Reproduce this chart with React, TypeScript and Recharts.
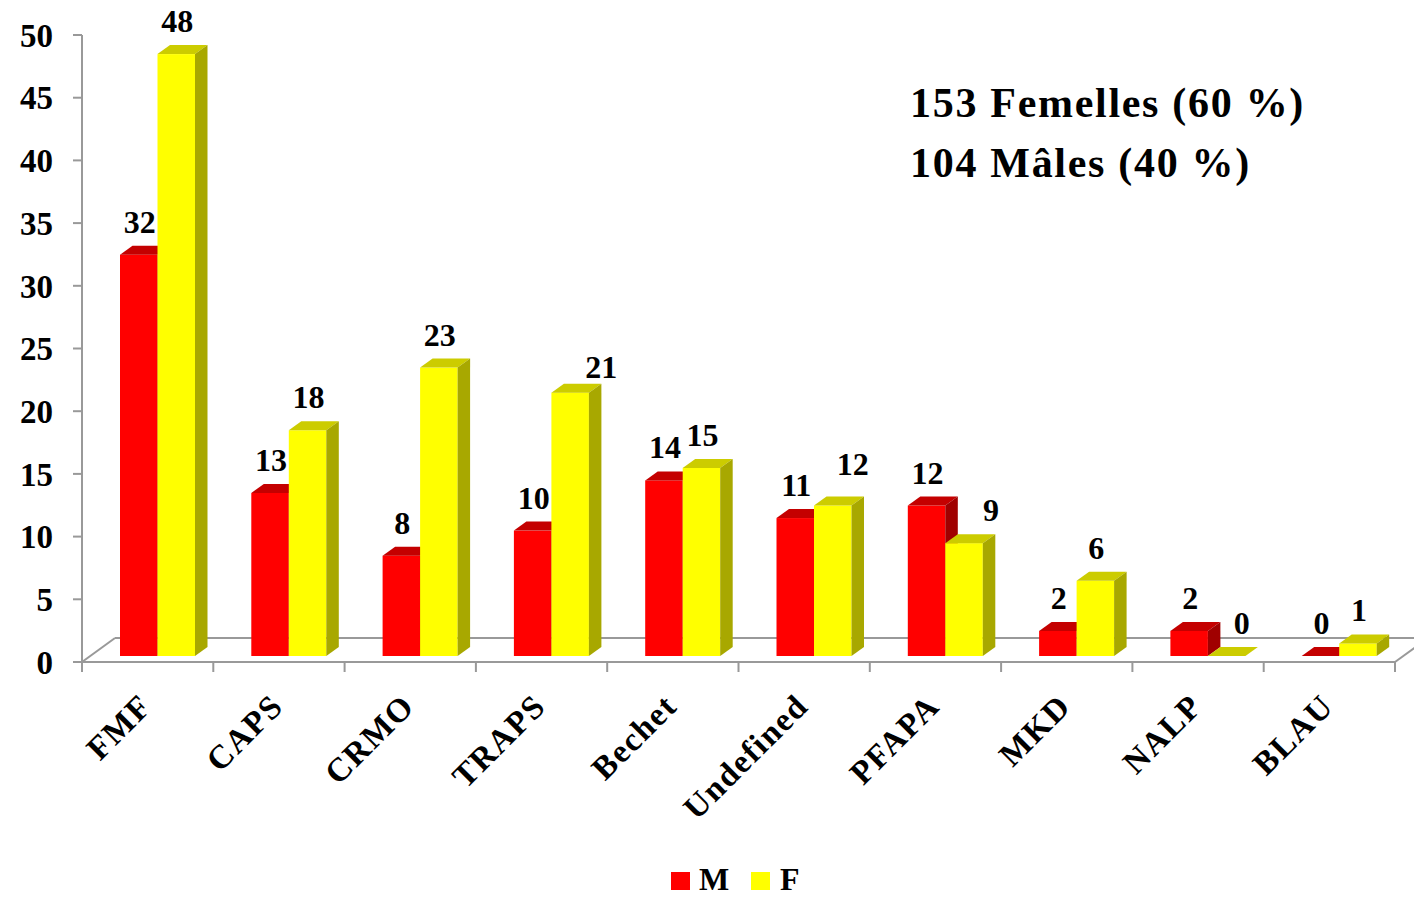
import React from "react";
import { BarChart, Bar, XAxis, YAxis, LabelList, Customized, usePlotArea } from "recharts";

const categories = ["FMF", "CAPS", "CRMO", "TRAPS", "Bechet", "Undefined", "PFAPA", "MKD", "NALP", "BLAU"];
const males = [32, 13, 8, 10, 14, 11, 12, 2, 2, 0];
const females = [48, 18, 23, 21, 15, 12, 9, 6, 0, 1];
const yTicks = [0, 5, 10, 15, 20, 25, 30, 35, 40, 45, 50];
const summary = ["153 Femelles (60 %)", "104 Mâles (40 %)"];

// labels the original chart had dragged aside (F series only)
const femaleLabelNudge: Record<string, [number, number]> = {
  TRAPS: [30, 7],
  Undefined: [19, -9],
  PFAPA: [26, 0],
  NALP: [14, 0],
};

const data = categories.map((name, i) => ({ name, M: males[i], F: females[i] }));

const FONT = '"Liberation Serif", "Times New Roman", serif';
const AXIS = "#999999";

// 3D offsets: bars sit a bit back on the floor, depth goes up-right
const DX = 10;
const DY = -6;
const DEPTH_X = 12.5;
const DEPTH_Y = -9;
const FLOOR_X = 33;
const FLOOR_Y = -24;

const Bar3D = (props: any) => {
  const { x, y, width, height, fill, top, side } = props;
  const fx = x + DX;
  const fy = y + DY;
  const h = Math.max(0, height);
  return (
    <g>
      <rect x={fx} y={fy} width={width} height={h} fill={fill} />
      <polygon
        points={`${fx},${fy} ${fx + width},${fy} ${fx + width + DEPTH_X},${fy + DEPTH_Y} ${fx + DEPTH_X},${fy + DEPTH_Y}`}
        fill={top}
      />
      {h > 0 && (
        <polygon
          points={`${fx + width},${fy} ${fx + width + DEPTH_X},${fy + DEPTH_Y} ${fx + width + DEPTH_X},${fy + h + DEPTH_Y} ${fx + width},${fy + h}`}
          fill={side}
        />
      )}
    </g>
  );
};

const BarLabel = (props: any) => {
  const { x, y, width, value, index, nudge } = props;
  const [nx, ny] = (nudge && nudge[categories[index]]) || [0, 0];
  return (
    <text
      x={x + DX + width / 2 + 1 + nx}
      y={y + DY - 22 + ny}
      textAnchor="middle"
      fontFamily={FONT}
      fontWeight="bold"
      fontSize={32}
      fill="#000"
    >
      {value}
    </text>
  );
};

const XTick = (props: any) => {
  const { x, y, payload, index } = props;
  const half = payload && payload.offset ? payload.offset : 65.65;
  return (
    <g>
      <line x1={x - half} x2={x - half} y1={y} y2={y + 10} stroke={AXIS} strokeWidth={2} />
      {index === categories.length - 1 && (
        <line x1={x + half} x2={x + half} y1={y} y2={y + 10} stroke={AXIS} strokeWidth={2} />
      )}
      <text
        transform={`translate(${x + 6},${y + 46}) rotate(-45)`}
        textAnchor="end"
        fontFamily={FONT}
        fontWeight="bold"
        fontSize={33}
        letterSpacing={1.5}
        fill="#000"
      >
        {payload.value}
      </text>
    </g>
  );
};

const Floor = () => {
  const area = usePlotArea();
  if (!area) return null;
  const left = area.x;
  const right = area.x + area.width;
  const bottom = area.y + area.height;
  return (
    <g stroke={AXIS} strokeWidth={2} fill="none">
      <line x1={left} y1={bottom} x2={left + FLOOR_X} y2={bottom + FLOOR_Y} />
      <line x1={left + FLOOR_X} y1={bottom + FLOOR_Y} x2={right + FLOOR_X} y2={bottom + FLOOR_Y} />
      <line x1={right} y1={bottom} x2={right + FLOOR_X} y2={bottom + FLOOR_Y} />
    </g>
  );
};

export default function App() {
  return (
    <div style={{ position: "relative", width: 1414, height: 897, background: "#fff" }}>
      <style>{`body{margin:0}`}</style>
      <BarChart
        width={1414}
        height={897}
        data={data}
        margin={{ top: 35, right: 19, left: 0, bottom: 0 }}
        barGap={0}
        barSize={37.5}
      >
        <Customized component={Floor} />
        <XAxis
          dataKey="name"
          height={235}
          interval={0}
          axisLine={{ stroke: AXIS, strokeWidth: 2 }}
          tickLine={false}
          tickSize={0}
          tickMargin={0}
          tick={<XTick />}
        />
        <YAxis
          width={82}
          domain={[0, 50]}
          ticks={yTicks}
          interval={0}
          axisLine={{ stroke: AXIS, strokeWidth: 2 }}
          tickLine={{ stroke: AXIS, strokeWidth: 2 }}
          tickSize={9}
          tickMargin={20}
          tick={{ fontFamily: FONT, fontWeight: "bold", fontSize: 33, fill: "#000" }}
        />
        <Bar
          dataKey="M"
          fill="#FF0000"
          isAnimationActive={false}
          shape={(p: any) => <Bar3D {...p} top="#C40000" side="#A00000" />}
        >
          <LabelList dataKey="M" content={<BarLabel />} />
        </Bar>
        <Bar
          dataKey="F"
          fill="#FFFF00"
          isAnimationActive={false}
          shape={(p: any) => <Bar3D {...p} top="#CCCC00" side="#A8A800" />}
        >
          <LabelList dataKey="F" content={<BarLabel nudge={femaleLabelNudge} />} />
        </Bar>
      </BarChart>
      <svg
        width={1414}
        height={897}
        style={{ position: "absolute", left: 0, top: 0, pointerEvents: "none" }}
      >
        {summary.map((s, i) => (
          <text
            key={s}
            x={910}
            y={117 + i * 60}
            fontFamily={FONT}
            fontWeight="bold"
            fontSize={42}
            letterSpacing={1.7}
            fill="#000"
          >
            {s}
          </text>
        ))}
        <rect x={671} y={872} width={19} height={18} fill="#FF0000" />
        <text x={699} y={890} fontFamily={FONT} fontWeight="bold" fontSize={32} fill="#000">
          M
        </text>
        <rect x={751} y={872} width={19} height={18} fill="#FFFF00" />
        <text x={780} y={890} fontFamily={FONT} fontWeight="bold" fontSize={32} fill="#000">
          F
        </text>
      </svg>
    </div>
  );
}
